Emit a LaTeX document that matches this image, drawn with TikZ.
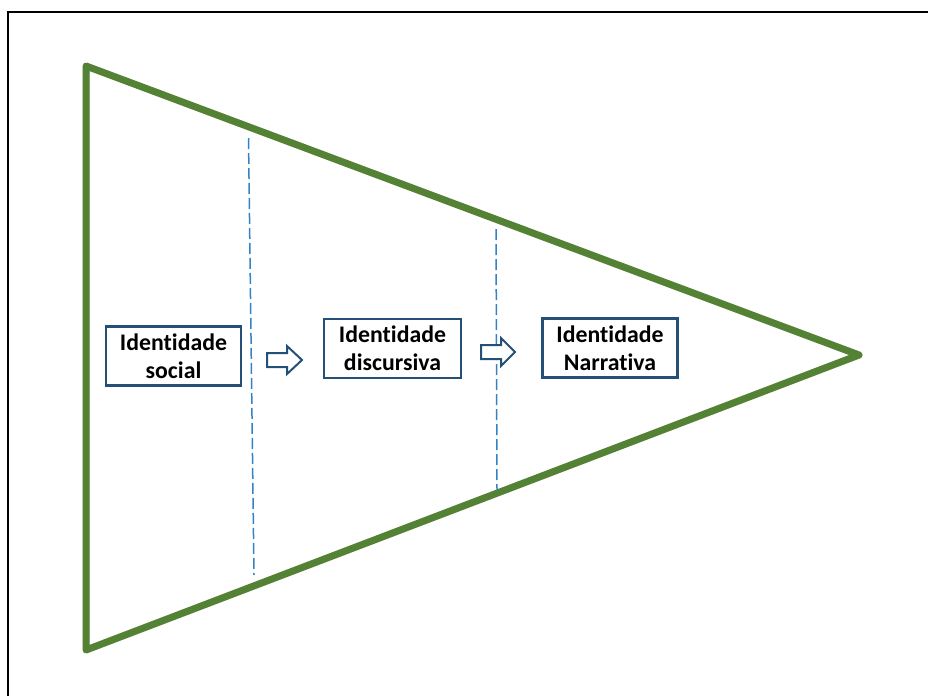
\documentclass[tikz,border=0pt]{standalone}
\usepackage{fontspec}
\setmainfont[Ligatures=NoCommon]{Carlito}
\definecolor{conegreen}{RGB}{84,130,53}
\definecolor{boxblue}{RGB}{36,80,120}
\definecolor{guideblue}{RGB}{50,130,200}
\begin{document}
\begin{tikzpicture}[x=1pt,y=-1pt,
  stage/.style={draw=boxblue, line width=2.4pt, fill=white, inner sep=0pt,
    minimum width=135pt, minimum height=59pt, align=center,
    font=\fontsize{23.8}{28}\selectfont\bfseries},
  edge/.style={conegreen, line width=7pt, line cap=round, line join=round},
  guide/.style={guideblue, line width=1.5pt, dash pattern=on 11pt off 4pt},
  blockarrow/.style={draw=boxblue, line width=2pt, fill=white, line join=miter}]
  \useasboundingbox (0,0) rectangle (928,696);
  % frame
  \draw[line width=2.5pt] (8,696) -- (8,12) -- (928,12);
  % cone outline with a faint shadow
  \coordinate (tl) at (86,66);
  \coordinate (bl) at (86,650);
  \coordinate (tip) at (859,355);
  \draw[black!35, opacity=0.35, line width=7pt, line join=round, shift={(2pt,-2pt)}]
    (tl) -- (tip) -- (bl) -- cycle;
  \draw[edge] (tl) -- (tip) -- (bl) -- cycle;
  % stage separators
  \coordinate (g1a) at (248.5,138);
  \coordinate (g1b) at (254,575);
  \coordinate (g2a) at (496,229);
  \coordinate (g2b) at (497,490);
  \draw[guide] (g1a) -- (g1b);
  \draw[guide] (g2a) -- (g2b);
  % stages
  \node[stage] (social) at (173.5,356) {Identidade\\social};
  \node[stage, minimum width=137pt] (disc) at (392.5,348.5) {Identidade\\discursiva};
  \node[stage] (narr) at (610,348) {Identidade\\Narrativa};
  % block arrows between stages
  \draw[blockarrow] (267,353) -- (287,353) -- (287,346) -- (302,360) -- (287,374)
    -- (287,367) -- (267,367) -- cycle;
  \draw[blockarrow] (481,345) -- (501,345) -- (501,338) -- (515,352) -- (501,366)
    -- (501,359) -- (481,359) -- cycle;
\end{tikzpicture}
\end{document}
